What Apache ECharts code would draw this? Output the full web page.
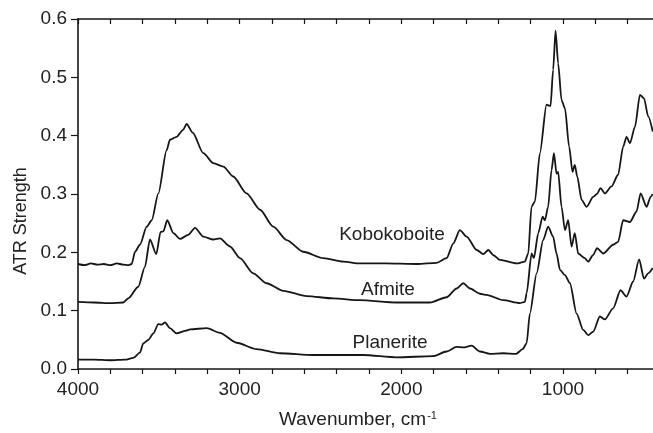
<!DOCTYPE html>
<html>
<head>
<meta charset="utf-8">
<script src="https://cdn.jsdelivr.net/npm/echarts@6/dist/echarts.min.js"></script>
<style>html,body{margin:0;padding:0;background:#fff}#c{width:653px;height:433px}</style>
</head>
<body>
<div id="c"></div>
<script>
// ---- data (wavenumber in cm-1, ATR strength) ----
const seriesNames = ['Kobokoboite', 'Afmite', 'Planerite'];
const xTickLabels = [4000, 3000, 2000, 1000];
const yTickLabels = [0.0, 0.1, 0.2, 0.3, 0.4, 0.5, 0.6];

const kobWave = [4000, 3960, 3920, 3880, 3840, 3800, 3760, 3720, 3690, 3668, 3647, 3617, 3575, 3544, 3503, 3452, 3431, 3390, 3350, 3328, 3290, 3225, 3163, 3101, 3040, 2957, 2874, 2792, 2709, 2607, 2483, 2359, 2256, 2100, 1900, 1782, 1720, 1679, 1638, 1596, 1534, 1493, 1462, 1430, 1390, 1287, 1236, 1215, 1195, 1174, 1143, 1102, 1077, 1061, 1046, 1030, 1009, 988, 962, 941, 927, 912, 885, 854, 813, 790, 768, 741, 700, 659, 628, 607, 586, 555, 524, 499, 473, 445];
const kobVal = [0.180, 0.178, 0.181, 0.179, 0.180, 0.178, 0.181, 0.179, 0.178, 0.180, 0.201, 0.213, 0.244, 0.255, 0.301, 0.375, 0.393, 0.398, 0.410, 0.420, 0.405, 0.370, 0.353, 0.347, 0.330, 0.301, 0.273, 0.244, 0.221, 0.201, 0.190, 0.184, 0.181, 0.181, 0.180, 0.182, 0.190, 0.215, 0.238, 0.227, 0.204, 0.197, 0.204, 0.195, 0.187, 0.181, 0.184, 0.198, 0.278, 0.287, 0.370, 0.453, 0.451, 0.513, 0.580, 0.524, 0.461, 0.447, 0.381, 0.338, 0.350, 0.330, 0.290, 0.278, 0.295, 0.300, 0.310, 0.301, 0.313, 0.333, 0.381, 0.398, 0.387, 0.415, 0.470, 0.464, 0.433, 0.407];

const afmWave = [4000, 3900, 3800, 3720, 3689, 3627, 3586, 3555, 3516, 3489, 3472, 3448, 3410, 3369, 3318, 3276, 3225, 3163, 3122, 3060, 2998, 2916, 2833, 2730, 2586, 2421, 2256, 2030, 1823, 1720, 1658, 1617, 1575, 1514, 1473, 1370, 1267, 1236, 1225, 1194, 1180, 1153, 1126, 1112, 1092, 1071, 1056, 1040, 1030, 1009, 988, 968, 947, 927, 906, 865, 844, 815, 789, 751, 690, 659, 628, 586, 545, 520, 483, 458, 445];
const afmVal = [0.115, 0.114, 0.113, 0.114, 0.121, 0.141, 0.175, 0.222, 0.197, 0.235, 0.236, 0.255, 0.233, 0.223, 0.230, 0.242, 0.227, 0.222, 0.224, 0.210, 0.190, 0.164, 0.147, 0.134, 0.125, 0.121, 0.118, 0.114, 0.114, 0.123, 0.138, 0.147, 0.138, 0.129, 0.127, 0.118, 0.113, 0.115, 0.130, 0.198, 0.190, 0.233, 0.261, 0.255, 0.278, 0.341, 0.370, 0.335, 0.338, 0.278, 0.238, 0.255, 0.210, 0.233, 0.198, 0.190, 0.184, 0.195, 0.207, 0.198, 0.213, 0.218, 0.255, 0.252, 0.270, 0.301, 0.278, 0.295, 0.300];

const plaWave = [4000, 3900, 3800, 3709, 3658, 3617, 3596, 3565, 3534, 3503, 3482, 3462, 3431, 3390, 3328, 3307, 3204, 3122, 3019, 2895, 2751, 2545, 2236, 2030, 1803, 1720, 1658, 1617, 1565, 1514, 1452, 1370, 1290, 1250, 1225, 1205, 1163, 1123, 1092, 1061, 1040, 1019, 988, 957, 916, 875, 844, 813, 772, 741, 690, 644, 607, 566, 529, 499, 473, 445];
const plaVal = [0.016, 0.016, 0.015, 0.016, 0.019, 0.028, 0.044, 0.050, 0.061, 0.077, 0.076, 0.080, 0.070, 0.061, 0.066, 0.068, 0.070, 0.062, 0.045, 0.034, 0.027, 0.024, 0.024, 0.020, 0.022, 0.030, 0.038, 0.037, 0.040, 0.030, 0.026, 0.027, 0.026, 0.034, 0.044, 0.095, 0.164, 0.221, 0.244, 0.227, 0.198, 0.170, 0.161, 0.147, 0.095, 0.067, 0.058, 0.064, 0.090, 0.085, 0.104, 0.135, 0.124, 0.150, 0.188, 0.155, 0.164, 0.173];

// ---- chart ----
const FONT = 'Liberation Sans, Arial, sans-serif';
const INK = '#161616';
const pairs = (w, v) => w.map((x, i) => [x, v[i]]);
const waves = [kobWave, afmWave, plaWave];
const vals = [kobVal, afmVal, plaVal];

const chart = echarts.init(document.getElementById('c'), null, {renderer: 'canvas'});

const xCommon = {
  type: 'value', min: 400, max: 4000, interval: 200, inverse: true,
  splitLine: {show: false},
  axisLine: {show: true, lineStyle: {color: INK, width: 1.6}}
};

chart.setOption({
  animation: false,
  backgroundColor: '#fff',
  grid: {left: 78, top: 19, bottom: 64, right: -7, containLabel: false, outerBoundsMode: 'none'},
  xAxis: [
    Object.assign({}, xCommon, {
      position: 'bottom',
      axisTick: {show: true, length: 5, lineStyle: {color: INK, width: 1.2}},
      axisLabel: {
        show: true, interval: 0, margin: 11, fontSize: 19, color: '#222', fontFamily: FONT,
        formatter: v => xTickLabels.indexOf(v) >= 0 ? String(v) : ''
      }
    }),
    Object.assign({}, xCommon, {
      position: 'top',
      axisTick: {show: true, inside: true, length: 5, lineStyle: {color: INK, width: 1.2}},
      axisLabel: {show: false}
    })
  ],
  yAxis: {
    type: 'value', min: 0, max: 0.6, interval: 0.1,
    splitLine: {show: false},
    axisLine: {show: true, lineStyle: {color: INK, width: 1.6}},
    axisTick: {show: true, length: 7, lineStyle: {color: INK, width: 1.2}},
    axisLabel: {
      margin: 11, fontSize: 19, color: '#222', fontFamily: FONT,
      formatter: v => {
        const t = yTickLabels.find(y => Math.abs(y - v) < 1e-9);
        return t === undefined ? '' : t.toFixed(1);
      }
    }
  },
  series: seriesNames.map((name, i) => ({
    name, type: 'line', xAxisIndex: 0,
    data: pairs(waves[i], vals[i]),
    showSymbol: false, symbol: 'none',
    smooth: 0.25, smoothMonotone: 'x',
    lineStyle: {color: INK, width: 1.8},
    clip: true
  })),
  graphic: [
    {type: 'text', x: 358, y: 420, style: {
      text: 'Wavenumber, cm{sup|-1}', fill: '#222', font: '19px ' + FONT,
      align: 'center', verticalAlign: 'middle',
      rich: {sup: {fontSize: 11, fontFamily: FONT, fill: '#222', verticalAlign: 'top', padding: [0, 0, 8, 1]}}
    }},
    {type: 'text', x: 21, y: 221, rotation: Math.PI / 2, style: {
      text: 'ATR Strength', fill: '#222', font: '18px ' + FONT,
      align: 'center', verticalAlign: 'middle'
    }},
    {type: 'text', x: 392, y: 235, style: {text: seriesNames[0], fill: '#222', font: '19px ' + FONT, align: 'center', verticalAlign: 'middle'}},
    {type: 'text', x: 388, y: 290, style: {text: seriesNames[1], fill: '#222', font: '19px ' + FONT, align: 'center', verticalAlign: 'middle'}},
    {type: 'text', x: 390, y: 343, style: {text: seriesNames[2], fill: '#222', font: '19px ' + FONT, align: 'center', verticalAlign: 'middle'}}
  ]
});
</script>
</body>
</html>
